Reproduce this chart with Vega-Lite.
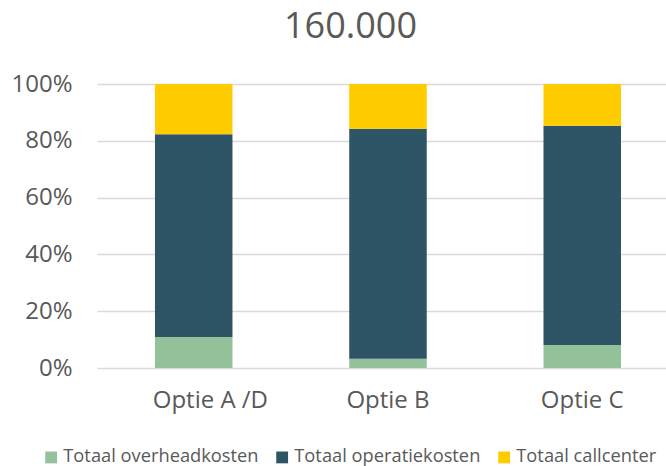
{
  "$schema": "https://vega.github.io/schema/vega-lite/v6.json",
  "autosize": "none",
  "width": 569,
  "height": 284,
  "padding": {"left": 97, "top": 84, "right": 0, "bottom": 98},
  "background": "white",
  "title": {
    "text": "160.000",
    "font": "Open Sans",
    "fontSize": 36,
    "fontWeight": "normal",
    "color": "#595959",
    "anchor": "middle",
    "dx": -31,
    "offset": 26
  },
  "config": {
    "view": {"stroke": null},
    "font": "Open Sans"
  },
  "data": {
    "values": [
      {"optie": "Optie A /D", "serie": "Totaal overheadkosten", "volgorde": 1, "aandeel": 0.109},
      {"optie": "Optie A /D", "serie": "Totaal operatiekosten", "volgorde": 2, "aandeel": 0.714},
      {"optie": "Optie A /D", "serie": "Totaal callcenter", "volgorde": 3, "aandeel": 0.177},
      {"optie": "Optie B", "serie": "Totaal overheadkosten", "volgorde": 1, "aandeel": 0.033},
      {"optie": "Optie B", "serie": "Totaal operatiekosten", "volgorde": 2, "aandeel": 0.809},
      {"optie": "Optie B", "serie": "Totaal callcenter", "volgorde": 3, "aandeel": 0.158},
      {"optie": "Optie C", "serie": "Totaal overheadkosten", "volgorde": 1, "aandeel": 0.081},
      {"optie": "Optie C", "serie": "Totaal operatiekosten", "volgorde": 2, "aandeel": 0.772},
      {"optie": "Optie C", "serie": "Totaal callcenter", "volgorde": 3, "aandeel": 0.147}
    ]
  },
  "mark": {"type": "bar"},
  "encoding": {
    "x": {
      "field": "optie",
      "type": "nominal",
      "sort": null,
      "scale": {"paddingInner": 0.601, "paddingOuter": 0.265, "align": 0.563},
      "axis": {
        "title": null,
        "labelAngle": 0,
        "domain": false,
        "ticks": false,
        "labelFontSize": 24,
        "labelColor": "#595959",
        "labelPadding": 20,
        "labelAlign": {"condition": {"test": "datum.value === 'Optie A /D'", "value": "left"}, "value": "center"},
        "labelOffset": {"condition": {"test": "datum.value === 'Optie A /D'", "value": -41}, "value": 0}
      }
    },
    "y": {
      "field": "aandeel",
      "type": "quantitative",
      "stack": "zero",
      "scale": {"domain": [0, 1], "nice": false},
      "axis": {
        "title": null,
        "values": [0, 0.2, 0.4, 0.6, 0.8, 1],
        "format": ".0%",
        "domain": false,
        "ticks": false,
        "grid": true,
        "gridColor": "#d9d9d9",
        "gridWidth": 1.3,
        "labelFontSize": 24,
        "labelColor": "#595959",
        "labelPadding": 25
      }
    },
    "color": {
      "field": "serie",
      "type": "nominal",
      "scale": {
        "domain": ["Totaal overheadkosten", "Totaal operatiekosten", "Totaal callcenter"],
        "range": ["#93c19a", "#2e5566", "#ffcc00"]
      },
      "legend": {
        "title": null,
        "orient": "none",
        "direction": "horizontal",
        "legendX": -55,
        "legendY": 364,
        "symbolType": "square",
        "symbolSize": 140,
        "symbolStrokeWidth": 0,
        "labelFontSize": 18.3,
        "labelColor": "#595959",
        "labelLimit": 300,
        "labelOffset": 3,
        "columnPadding": 14
      }
    },
    "order": {"field": "volgorde", "type": "quantitative"}
  }
}
